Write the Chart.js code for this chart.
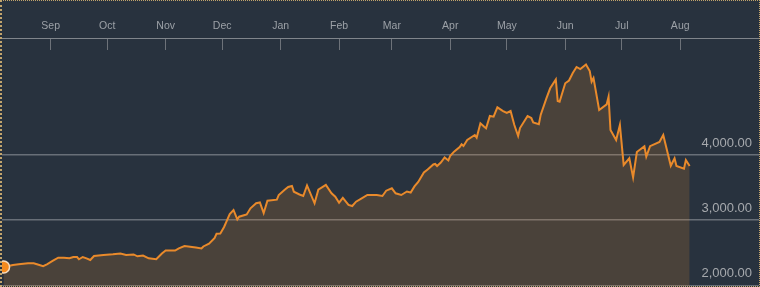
<!DOCTYPE html>
<html>
<head>
<meta charset="utf-8">
<script src="https://cdn.jsdelivr.net/npm/chart.js@4"></script>
<style>
  html, body { margin: 0; padding: 0; background: #28323e; }
  #wrap {
    width: 760px; height: 287px; box-sizing: border-box;
    border: 1px dotted #c2a46c; border-left-width: 2px;
    background: #28323e;
  }
  canvas { display: block; }
</style>
</head>
<body>
<div id="wrap"><canvas id="indexChart" width="757" height="285"></canvas></div>
<script>
// days since 2014-08-07
const days = [
  0, 5, 8, 13, 16, 19, 21, 23, 26, 29,
  32, 35, 37, 39, 40, 42, 44, 46, 48, 53,
  58, 62, 65, 69, 71, 74, 77, 81, 84, 86,
  91, 93, 96, 99, 102, 105, 106, 109, 112, 113,
  115, 117, 119, 120, 122, 124, 125, 128, 129, 131,
  134, 136, 138, 140, 145, 146, 149, 151, 153, 154,
  157, 159, 161, 165, 167, 171, 174, 176, 178, 180,
  183, 185, 187, 190, 193, 198, 201, 203, 206, 208,
  211, 214, 216, 218, 220, 223, 225, 228, 229, 230,
  232, 234, 236, 237, 239, 242, 243, 244, 246, 250,
  251, 253, 255, 256, 258, 260, 262, 265, 267, 269,
  271, 273, 274, 278, 280, 281, 284, 285, 288, 290,
  293, 294, 295, 298, 300, 302, 304, 306, 309, 311,
  312, 313, 316, 320, 321, 322, 325, 327, 329, 332,
  334, 336, 340, 341, 343, 348, 350, 354, 356, 357,
  361, 362, 364
];
const values = [
  2281, 2312, 2322, 2338, 2338, 2312, 2292, 2322, 2373, 2424,
  2424, 2414, 2434, 2434, 2399, 2434, 2414, 2388, 2450, 2465,
  2476, 2488, 2465, 2473, 2445, 2457, 2414, 2399, 2488, 2534,
  2534, 2568, 2603, 2592, 2580, 2565, 2596, 2639, 2726, 2792,
  2795, 2895, 3028, 3094, 3156, 3010, 3053, 3079, 3087, 3182,
  3259, 3271, 3110, 3299, 3314, 3386, 3463, 3509, 3524, 3437,
  3394, 3371, 3532, 3259, 3467, 3540, 3412, 3360, 3268, 3343,
  3233, 3217, 3283, 3335, 3386, 3386, 3371, 3452, 3489, 3412,
  3386, 3440, 3424, 3517, 3586, 3731, 3778, 3854, 3862, 3831,
  3885, 3962, 3916, 3989, 4051, 4123, 4164, 4138, 4230, 4307,
  4266, 4487, 4434, 4410, 4599, 4588, 4732, 4675, 4645, 4675,
  4460, 4292, 4414, 4599, 4568, 4499, 4473, 4619, 4870, 5024,
  5159, 4829, 4818, 5101, 5143, 5259, 5351, 5320, 5389, 5289,
  5125, 5182, 4691, 4778, 4895, 4384, 4230, 4461, 3847, 3949,
  3655, 4046, 4135, 3974, 4135, 4200, 4307, 3834, 3949, 3831,
  3790, 3923, 3831
];

const monthLabels = ["Sep","Oct","Nov","Dec","Jan","Feb","Mar","Apr","May","Jun","Jul","Aug"];
const startDate = Date.UTC(2014, 7, 7);
const monthTicks = monthLabels.map((m, i) => (Date.UTC(2014, 8 + i, 1) - startDate) / 864e5);
const yTicks = [2000, 3000, 4000];

Chart.defaults.font.family = '"Liberation Sans", Arial, sans-serif';

const ctx = document.getElementById("indexChart");

new Chart(ctx, {
  type: "line",
  data: {
    datasets: [{
      data: days.map((d, i) => ({ x: d, y: values[i] })),
      borderColor: "#e98a2b",
      borderWidth: 2,
      backgroundColor: "rgba(232,137,42,0.18)",
      fill: "start",
      tension: 0,
      pointRadius: c => c.dataIndex === 0 ? 6 : 0,
      pointBackgroundColor: "#f38a1e",
      pointBorderColor: "#f4dcc0",
      pointBorderWidth: 1.5,
      pointHoverRadius: 0,
      clip: false
    }]
  },
  options: {
    responsive: false,
    animation: false,
    events: [],
    layout: { padding: 0, autoPadding: false },
    plugins: { legend: { display: false }, tooltip: { enabled: false } },
    scales: {
      x: {
        type: "linear",
        position: "top",
        min: -0.83,
        max: 400.8,
        afterBuildTicks: s => { s.ticks = monthTicks.map(v => ({ value: v })); },
        afterFit: s => { s.height = 37; s.paddingLeft = 0; s.paddingRight = 0; },
        grid: { drawOnChartArea: false, tickColor: "#6d7279", tickLength: -12 },
        border: { color: "#80858b", width: 1 },
        ticks: {
          color: "#9ca1a7",
          font: { size: 10.5 },
          padding: 17.4,
          autoSkip: false,
          maxRotation: 0,
          callback: (v, i) => monthLabels[i]
        }
      },
      y: {
        position: "right",
        min: 1989,
        max: 5796,
        afterBuildTicks: s => { s.ticks = yTicks.map(v => ({ value: v })); },
        afterFit: s => { s.width = 0; s.paddingTop = 0; s.paddingBottom = 0; },
        grid: { color: "rgba(255,255,255,0.3)", lineWidth: 1.5, drawTicks: false },
        border: { display: false },
        ticks: {
          mirror: true,
          padding: -7,
          labelOffset: -12,
          color: "#a6a9ad",
          font: { size: 13 },
          callback: v => v.toLocaleString("en-US", { minimumFractionDigits: 2 })
        }
      }
    }
  }
});
</script>
</body>
</html>
